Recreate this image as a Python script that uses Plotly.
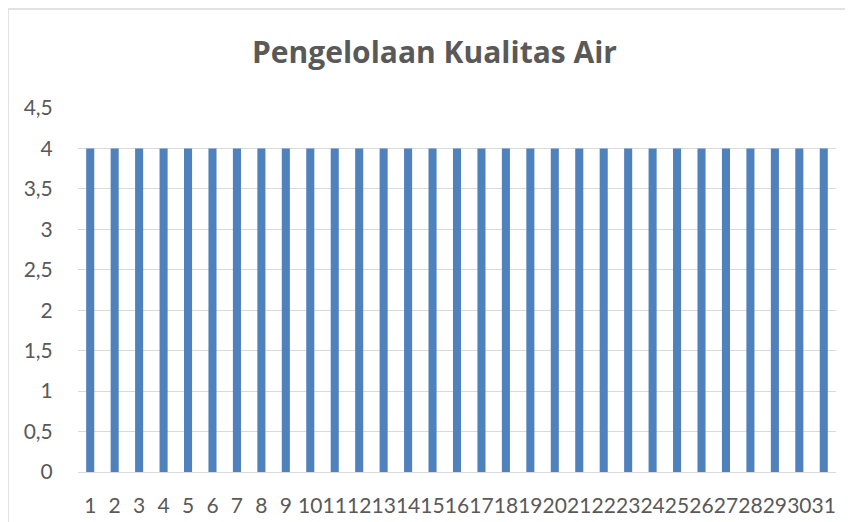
import plotly.graph_objects as go

# data: days 1..31, every one scored 4
hari = [str(i) for i in range(1, 32)]
nilai = [4, 4, 4, 4, 4, 4, 4, 4, 4, 4, 4, 4, 4, 4, 4, 4,
         4, 4, 4, 4, 4, 4, 4, 4, 4, 4, 4, 4, 4, 4, 4]
y_ticks = [0, 0.5, 1, 1.5, 2, 2.5, 3, 3.5, 4, 4.5]
y_labels = ["0", "0,5", "1", "1,5", "2", "2,5", "3", "3,5", "4", "4,5"]

grey_txt = "#595959"
grid = "#D9D9D9"

# page has an 8px body margin, so figure coords = page coords - 8
fig = go.Figure()
fig.add_trace(go.Bar(x=hari, y=nilai, marker_color="#4F81BD",
                     marker_line_width=0))

fig.update_layout(
    width=853, height=522,
    margin=dict(l=70, r=25, t=100, b=58),
    paper_bgcolor="white", plot_bgcolor="white",
    bargap=0.67,
    showlegend=False,
    font=dict(family="Lato", color=grey_txt, size=21),
    title=dict(text="<b>Pengelolaan Kualitas Air</b>",
               font=dict(family="Open Sans", size=30, color=grey_txt),
               x=426.5 / 853, xanchor="center",
               y=1 - 44 / 522, yanchor="middle"),
)
fig.update_xaxes(type="category", tickangle=0, showgrid=False,
                 tickmode="array", tickvals=hari, ticktext=hari,
                 showline=True, linecolor=grid, linewidth=1,
                 ticks="outside", ticklen=15, tickcolor="rgba(0,0,0,0)",
                 tickfont=dict(size=21, color=grey_txt))
fig.update_yaxes(range=[0, 4.5], tickvals=y_ticks, ticktext=y_labels,
                 showgrid=True, gridcolor=grid, gridwidth=1,
                 zeroline=False, showline=False,
                 ticks="outside", ticklen=20, tickcolor="rgba(0,0,0,0)",
                 tickfont=dict(size=21, color=grey_txt))

# outer chart frame like the spreadsheet chart area
fig.add_shape(type="rect", xref="paper", yref="paper",
              x0=-70 / 758, x1=1.05, y0=-0.3, y1=463 / 364,
              line=dict(color=grid, width=1.5), fillcolor="rgba(0,0,0,0)",
              layer="below")

fig.write_html("out.html")
